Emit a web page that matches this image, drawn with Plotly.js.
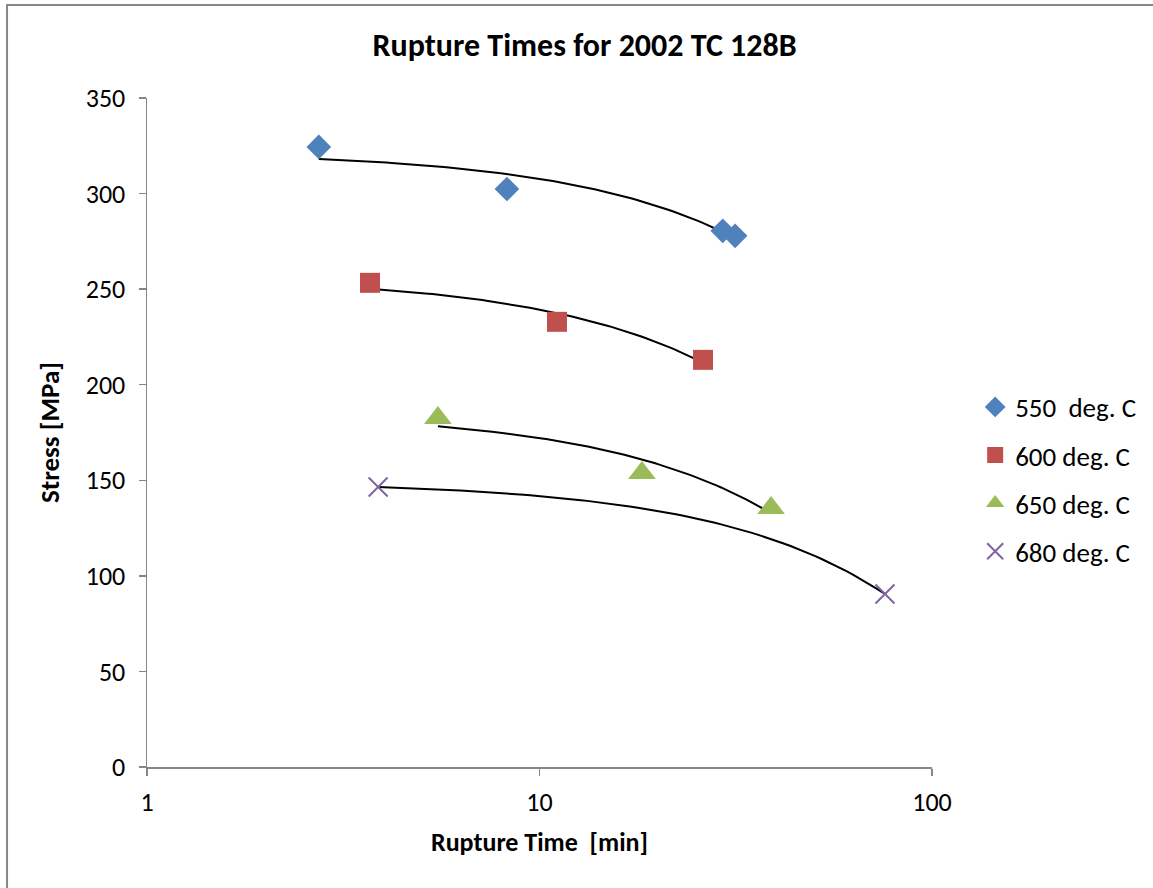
<!DOCTYPE html>
<html>
<head>
<meta charset="utf-8">
<script src="https://cdn.plot.ly/plotly-3.0.1.min.js"></script>
<style>
html,body{margin:0;padding:0;background:#fff;}
#chart{width:1153px;height:888px;}
</style>
</head>
<body>
<div id="chart"></div>
<script>
// Data
const seriesNames = ["550  deg. C", "600 deg. C", "650 deg. C", "680 deg. C"];
const time550 = [2.74, 8.26, 29.3, 31.5];
const stress550 = [324.4, 302.4, 280.5, 277.9];
const time600 = [3.70, 11.08, 26.1];
const stress600 = [253.3, 232.9, 213.0];
const time650 = [5.51, 18.24, 38.9];
const stress650 = [182.6, 153.8, 135.5];
const time680 = [3.88, 75.9];
const stress680 = [146.5, 90.5];
const xTickVals = [1, 10, 100];
const yTickVals = [0, 50, 100, 150, 200, 250, 300, 350];

const colors = ["#4F81BD", "#C0504D", "#9BBB59", "#8064A2"];
const symbols = ["diamond", "square", "triangle-up", "x-thin"];
const sizes = [19, 20, 24, 19];

const xs = [time550, time600, time650, time680];
const ys = [stress550, stress600, stress650, stress680];

// linear least-squares trendline (y = a + b x), drawn on log x axis
function trend(x, y) {
  const n = x.length;
  const mx = x.reduce((s, v) => s + v, 0) / n;
  const my = y.reduce((s, v) => s + v, 0) / n;
  let sxy = 0, sxx = 0;
  for (let i = 0; i < n; i++) { sxy += (x[i] - mx) * (y[i] - my); sxx += (x[i] - mx) * (x[i] - mx); }
  const b = sxy / sxx, a = my - b * mx;
  const lo = Math.log10(Math.min(...x)), hi = Math.log10(Math.max(...x));
  const tx = [], ty = [];
  const steps = 80;
  for (let k = 0; k <= steps; k++) {
    const v = Math.pow(10, lo + (hi - lo) * k / steps);
    tx.push(v); ty.push(a + b * v);
  }
  return {tx, ty};
}

const traces = [];
for (let i = 0; i < 4; i++) {
  const t = trend(xs[i], ys[i]);
  traces.push({
    x: t.tx, y: t.ty, mode: "lines", type: "scatter",
    line: {color: "#000000", width: 2}, showlegend: false, hoverinfo: "skip"
  });
}
for (let i = 0; i < 4; i++) {
  const isX = symbols[i] === "x-thin";
  traces.push({
    x: xs[i], y: ys[i], mode: "markers", type: "scatter",
    name: seriesNames[i], legendgroup: "g" + i,
    marker: isX
      ? {symbol: symbols[i], size: sizes[i], color: colors[i], line: {color: colors[i], width: 2}}
      : {symbol: symbols[i], size: sizes[i], color: colors[i], line: {width: 0}}
  });
}

const font = "Carlito, Lato, 'Liberation Sans', sans-serif";

const layout = {
  width: 1153, height: 888,
  margin: {l: 147, r: 221, t: 98, b: 121, autoexpand: false},
  paper_bgcolor: "#ffffff", plot_bgcolor: "#ffffff",
  font: {family: font, size: 26, color: "#000000"},
  title: {text: "<b>Rupture Times for 2002 TC 128B</b>", font: {family: font, size: 32, color: "#000"},
          xref: "container", x: 0.507, xanchor: "center", yref: "container", y: 0.949, yanchor: "middle"},
  xaxis: {
    type: "log", range: [0, 2], tickvals: xTickVals, ticktext: xTickVals.map(String),
    showgrid: false, zeroline: false, showline: true, linecolor: "#868686", linewidth: 1.5,
    ticks: "outside", ticklen: 7, tickcolor: "#868686", tickwidth: 1.5,
    tickfont: {size: 26}, ticklabelstandoff: 4, automargin: false,
    title: {text: "<b>Rupture Time  [min]</b>", font: {size: 26}, standoff: 16}
  },
  yaxis: {
    range: [0, 350], tickvals: yTickVals, showgrid: false, zeroline: false,
    showline: true, linecolor: "#868686", linewidth: 1.5,
    ticks: "outside", ticklen: 7, tickcolor: "#868686", tickwidth: 1.5,
    tickfont: {size: 26}, ticklabelstandoff: 8, automargin: false,
    title: {text: "<b>Stress [MPa]</b>", font: {size: 27}, standoff: 18}
  },
  legend: {
    x: 1.055, xanchor: "left", y: 0.43, yanchor: "middle",
    font: {size: 27}, tracegroupgap: 10, itemwidth: 30, bgcolor: "rgba(0,0,0,0)"
  },
  shapes: [{
    type: "rect", xref: "paper", yref: "paper",
    x0: -0.1783, x1: 1.6, y0: -0.5, y1: 1.139,
    line: {color: "#868686", width: 2}, fillcolor: "rgba(0,0,0,0)", layer: "below"
  }],
  showlegend: true
};

Plotly.newPlot("chart", traces, layout, {displayModeBar: false, staticPlot: true});
</script>
</body>
</html>
